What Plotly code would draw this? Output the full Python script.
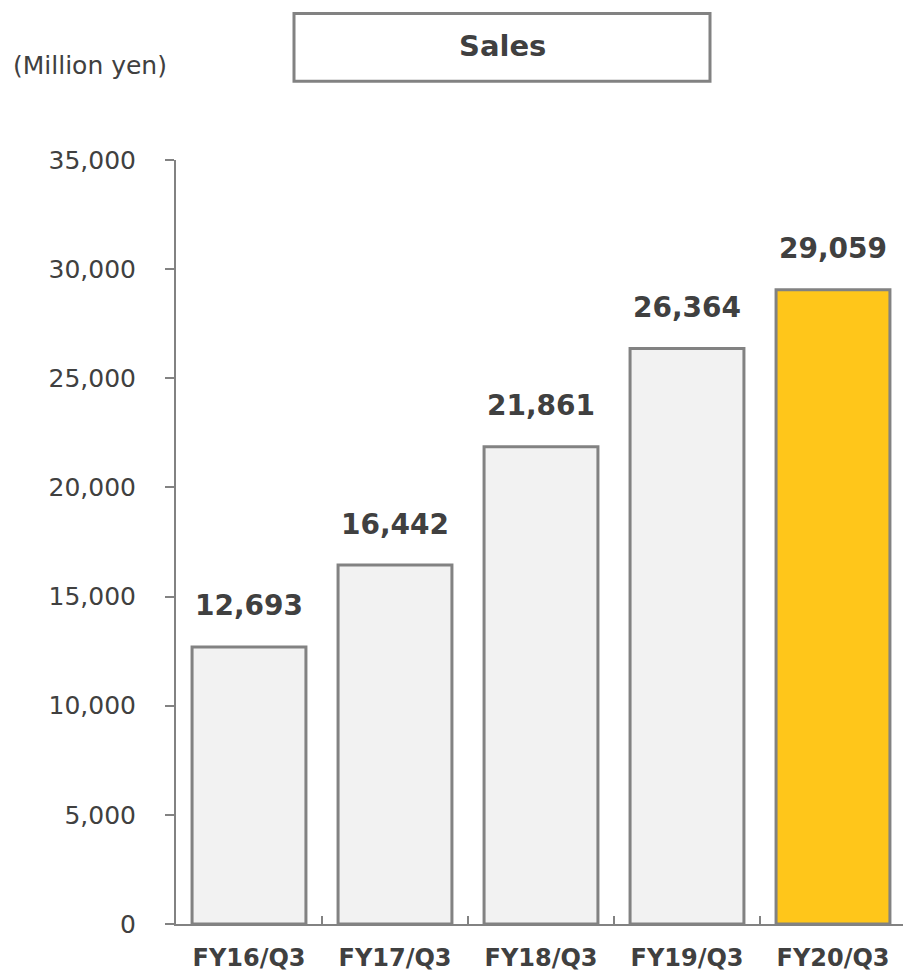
import plotly.graph_objects as go

# Quarterly sales (million yen)
periods = ["FY16/Q3", "FY17/Q3", "FY18/Q3", "FY19/Q3", "FY20/Q3"]
sales = [12693, 16442, 21861, 26364, 29059]
bar_colors = ["#f2f2f2", "#f2f2f2", "#f2f2f2", "#f2f2f2", "#ffc61a"]
y_ticks = [0, 5000, 10000, 15000, 20000, 25000, 30000, 35000]

TEXT = "#404040"
LINE = "#828282"
FONT = "DejaVu Sans"

W, H = 903, 972
L, R, T, B = 176, 0, 160, 46
plot_w = W - L - R
plot_h = H - T - B


def px_x(p):
    return (p - L) / plot_w


def px_y(p):
    return (H - B - p) / plot_h


fig = go.Figure()
fig.add_trace(go.Bar(
    x=periods,
    y=sales,
    width=0.78,
    marker=dict(color=bar_colors, line=dict(color=LINE, width=3)),
    hoverinfo="skip",
))

# value labels above each bar
for p, v in zip(periods, sales):
    fig.add_annotation(
        x=p, y=v, text=f"<b>{v:,}</b>", showarrow=False,
        yanchor="middle", yshift=41,
        font=dict(family=FONT, size=28, color=TEXT),
    )

# boxed title
fig.add_shape(
    type="rect", xref="paper", yref="paper",
    x0=px_x(294), x1=px_x(710), y0=px_y(81), y1=px_y(13),
    line=dict(color=LINE, width=3), fillcolor="white",
)
fig.add_annotation(
    xref="paper", yref="paper", x=px_x(502), y=px_y(46),
    text="<b>Sales</b>", showarrow=False,
    xanchor="center", yanchor="middle",
    font=dict(family=FONT, size=29, color=TEXT),
)
fig.add_annotation(
    xref="paper", yref="paper", x=px_x(11), y=px_y(65),
    text="(Million yen)", showarrow=False,
    xanchor="left", yanchor="middle",
    font=dict(family=FONT, size=25, color=TEXT),
)

fig.update_layout(
    width=W, height=H,
    margin=dict(l=L, r=R, t=T, b=B, pad=0),
    paper_bgcolor="white", plot_bgcolor="white",
    showlegend=False,
    xaxis=dict(
        type="category",
        range=[-0.5, -0.5 + plot_w / 146],
        showline=True, linecolor=LINE, linewidth=2,
        ticks="inside", tickson="boundaries", ticklen=8,
        tickcolor=LINE, tickwidth=2,
        tickfont=dict(family=FONT, size=24, color=TEXT),
        ticklabelstandoff=11,
        showgrid=False, zeroline=False,
        tickvals=periods,
        ticktext=[f"<b>{p}</b>" for p in periods],
    ),
    yaxis=dict(
        range=[0, 35000],
        tickvals=y_ticks,
        ticktext=[f"{v:,}" for v in y_ticks],
        showline=True, linecolor=LINE, linewidth=2,
        ticks="outside", ticklen=9, tickcolor=LINE, tickwidth=2,
        tickfont=dict(family=FONT, size=25, color=TEXT),
        ticklabelstandoff=24,
        showgrid=False, zeroline=False,
    ),
)

fig.write_html("out.html")
